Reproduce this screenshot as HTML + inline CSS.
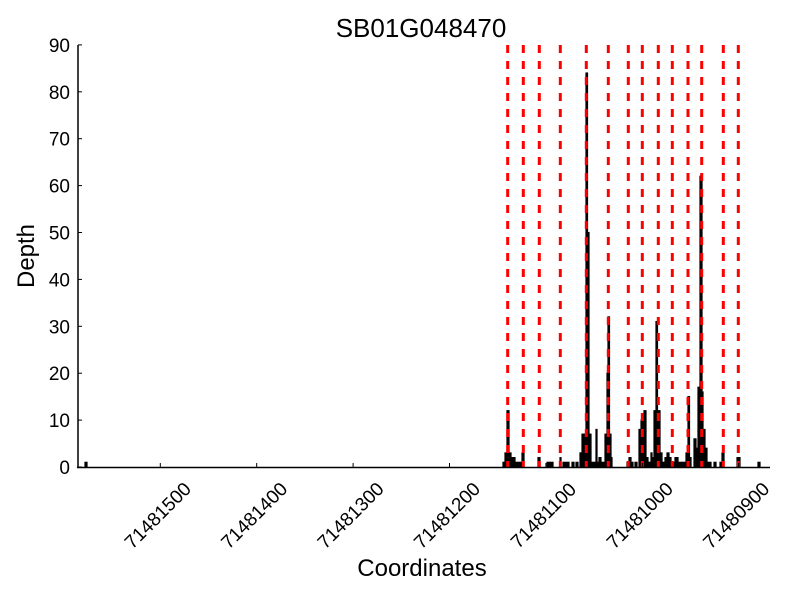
<!DOCTYPE html>
<html><head><meta charset="utf-8"><style>body{margin:0;background:#fff}svg{display:block}text{font-family:"Liberation Sans",sans-serif;fill:#000}</style></head><body>
<svg width="800" height="600" viewBox="0 0 800 600" xmlns="http://www.w3.org/2000/svg">
<text x="421" y="37" font-size="26" text-anchor="middle">SB01G048470</text>
<g id="bars" fill="#000" stroke="#000" stroke-width="1.2"></g>
<g stroke="#f00" stroke-width="3" stroke-dasharray="8,8">
<line x1="507.7" y1="45" x2="507.7" y2="467"/><line x1="523.3" y1="45" x2="523.3" y2="467"/>
<line x1="539.3" y1="45" x2="539.3" y2="467"/><line x1="560.3" y1="45" x2="560.3" y2="467"/>
<line x1="586.3" y1="45" x2="586.3" y2="467"/><line x1="608.3" y1="45" x2="608.3" y2="467"/>
<line x1="628.3" y1="45" x2="628.3" y2="467"/><line x1="642.3" y1="45" x2="642.3" y2="467"/>
<line x1="658.3" y1="45" x2="658.3" y2="467"/><line x1="672.3" y1="45" x2="672.3" y2="467"/>
<line x1="688" y1="45" x2="688" y2="467"/><line x1="701.7" y1="45" x2="701.7" y2="467"/>
<line x1="723.3" y1="45" x2="723.3" y2="467"/><line x1="738.3" y1="45" x2="738.3" y2="467"/>
</g>
<g stroke="#000" stroke-width="1.5" fill="none">
<line x1="78" y1="45" x2="78" y2="468"/><line x1="77" y1="467.5" x2="770" y2="467.5"/>
</g>
<g stroke="#000" stroke-width="1" id="ticks"></g>
<g font-size="19" text-anchor="end" id="ylab"></g>
<g font-size="19" text-anchor="middle" id="xlab"></g>
<text x="422" y="576" font-size="24" text-anchor="middle">Coordinates</text>
<text transform="translate(34,256) rotate(-90)" font-size="24" text-anchor="middle">Depth</text>
</svg>
<script>
var ns="http://www.w3.org/2000/svg";
function el(p,t,a,txt){var e=document.createElementNS(ns,t);for(var k in a)e.setAttribute(k,a[k]);if(txt!=null)e.textContent=txt;document.getElementById(p).appendChild(e);}
var u=4.69,b=467;
var d=[[85,87,1],[503,505,1],[505,507,3],[507,509,12],[509,511,3],[511,513,2],[514,515,2],[516,518,1],[519,520,1],[521,522,1],[522,524,3],[538,540,2],[547,549,1],[550,553,1],[560,561,2],[563,569,1],[572,574,1],[576,578,1],[580,582,3],[582,584,7],[584,586,7],[586,587.5,84],[587.5,589,50],[589,591,7],[591,593,1],[594,596,1],[596,597,8],[597,605,1],[599,601,2],[605,607,7],[607,608,20],[608,609.5,32],[609.5,611,7],[611,612,2],[627,629,1],[629,631,2],[631,633,1],[635,637,1],[639,641,8],[641,643,10],[643,644,2],[644,646,12],[646,648,2],[648,651,1],[651,652,3],[652,654,2],[654,656,12],[656,657.5,31],[657.5,660,12],[660,662,3],[662,664,1],[665,667,2],[667,669,3],[669,671,2],[671,675,1],[675,678,2],[678,681,1],[682,685,1],[686,688,3],[688,689.5,15],[689.5,691,2],[694,696,6],[696,698,4],[698,700,17],[700,702,62],[702,703,16],[703,705,8],[705,707,4],[707,711,1],[714,716,1],[720,722,1],[722,724,3],[737,740,2],[758,760,1]];
d.forEach(function(r){el("bars","rect",{x:r[0],y:b-r[2]*u,width:r[1]-r[0],height:r[2]*u});});
for(var i=0;i<=9;i++){var y=b-i*10*u;el("ticks","line",{x1:78,y1:y,x2:82,y2:y});el("ylab","text",{x:70,y:y+7},String(i*10));}
for(var j=0;j<7;j++){var x=160.3+j*96.4;el("ticks","line",{x1:x,y1:467,x2:x,y2:463});el("xlab","text",{transform:"translate("+(x+2)+",520) rotate(-45)"},String(71481500-j*100));}
</script>
</body></html>
